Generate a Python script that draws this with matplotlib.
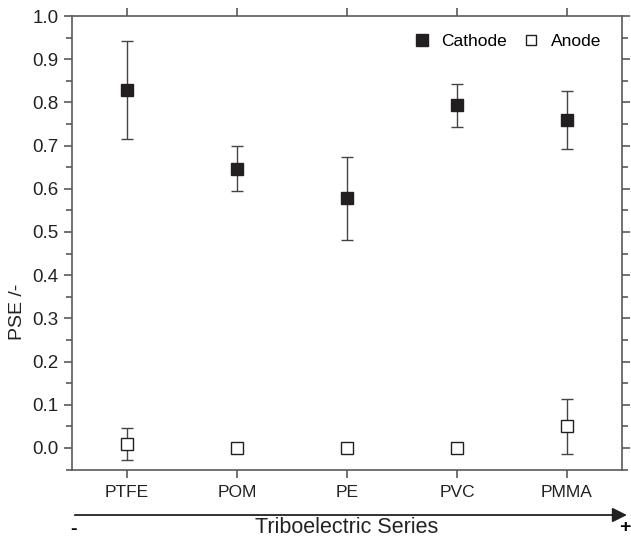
import numpy as np
import matplotlib.pyplot as plt
from matplotlib.lines import Line2D
from matplotlib.patches import FancyArrowPatch

plt.rcParams['font.family'] = ['Liberation Sans', 'DejaVu Sans']

materials = ["PTFE", "POM", "PE", "PVC", "PMMA"]
cathode = [0.828, 0.646, 0.578, 0.793, 0.759]
cathode_err = [0.113, 0.052, 0.096, 0.050, 0.068]
anode = [0.010, 0.0, 0.0, 0.0, 0.050]
anode_err = [0.037, 0.0, 0.0, 0.0, 0.064]

spine_col = "#5a5a5a"
dark = "#231f20"
x = np.arange(len(materials))

fig = plt.figure(figsize=(6.31, 5.39), dpi=100)
ax = fig.add_axes([0.1141, 0.1288, 0.8716, 0.8415])

ax.errorbar(x, cathode, yerr=cathode_err, fmt='s', color=dark, ms=8.6,
            ecolor='#444444', elinewidth=1, capsize=4.5, capthick=1)
ax.errorbar(x, anode, yerr=[e if e > 0 else np.nan for e in anode_err], fmt='s',
            mfc='white', mec=dark, mew=1, color=dark, ms=8,
            ecolor='#444444', elinewidth=1, capsize=4.5, capthick=1)

ax.set_xlim(-0.5, 4.5)
ax.set_ylim(-0.05, 1.0)
ax.set_xticks(x)
ax.set_xticklabels(materials)
ax.set_yticks(np.arange(0, 1.01, 0.1))
ax.set_yticks(np.arange(-0.05, 1.0, 0.1), minor=True)
ax.set_ylabel("PSE /-", fontsize=14, color='#222222')
ax.yaxis.set_label_coords(-0.084, 0.347)

for s in ax.spines.values():
    s.set_color(spine_col)
    s.set_linewidth(1.2)
ax.tick_params(which='both', direction='out', color=spine_col, top=True, right=True,
               labelcolor='#222222')
ax.tick_params(which='major', length=6, width=1.2)
ax.tick_params(which='minor', length=4, width=1.2)
ax.tick_params(axis='x', which='minor', bottom=False, top=False)
ax.tick_params(axis='y', labelsize=13.5)
ax.tick_params(axis='x', labelsize=12.5, pad=5)

handles = [Line2D([], [], ls='none', marker='s', color=dark, ms=8),
           Line2D([], [], ls='none', marker='s', mfc='white', mec=dark, mew=1, ms=7.5)]
ax.legend(handles, ["Cathode", "Anode"], ncol=2, loc='upper right', frameon=False,
          fontsize=12.5, handletextpad=0.5, columnspacing=0.8, handlelength=1.2,
          bbox_to_anchor=(0.99, 0.995))

# triboelectric series arrow
fig.patches.append(FancyArrowPatch(
    (0.1141, 0.0445), (0.998, 0.0445), transform=fig.transFigure,
    arrowstyle='-|>', mutation_scale=22, color='#222222', lw=1.3))
fig.text(0.55, 0.012, "Triboelectric Series", ha='center', va='baseline',
         fontsize=15.5, color='#222222')
fig.text(0.116, 0.018, "-", ha='center', va='center', fontsize=14, fontweight='bold')
fig.text(0.99, 0.022, "+", ha='center', va='center', fontsize=14, fontweight='bold')

fig.savefig("out.png", dpi=100)
